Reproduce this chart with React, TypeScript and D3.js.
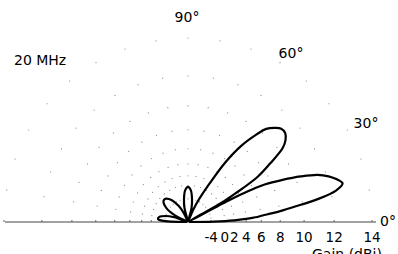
import React from 'react';
import * as d3 from 'd3';

// elevation angle (deg) and gain (dBi)
const elevation = [0, 1, 2, 3, 4, 5, 6, 7, 8, 10, 12, 14, 16, 18, 20, 22, 24, 26, 27, 28, 29, 30, 31, 33, 35.5, 38, 40, 42.5, 45, 47, 50, 52, 55, 58, 61, 64, 67, 70, 72, 76, 80, 85, 90, 95, 100, 104, 108, 115, 120, 127, 133, 137, 141, 147, 153, 157, 161, 165, 170, 174, 177, 180];
const gainDbi = [-30, -3, 2, 4, 5.3, 6.2, 7.3, 8.3, 9.2, 11.1, 12.3, 12.75, 12.5, 12.1, 11.5, 10.4, 9.0, 7.4, 5.5, 1.5, -30, 1, 3.5, 7.1, 8.8, 10.3, 10.8, 11.1, 11.1, 10.9, 10.4, 9.6, 8.1, 5.6, 1.2, -3, -9, -30, -30, -8, -4, -1.2, -0.4, -1.2, -4, -8, -30, -12, -6, -2.5, -1.2, -1.0, -1.3, -3, -8, -30, -8, -4, -2, -1.7, -3, -30];

const ringTicks = [-4, 0, 2, 4, 6, 8, 10, 12, 14];
const spokeAngles = d3.range(0, 181, 10);
const angleLabels = [0, 30, 60, 90];
const freqLabel = '20 MHz';
const axisTitle = 'Gain (dBi)';

const W = 398;
const H = 254;
const cx = 188;
const cy = 222;
const R = 184;
const font = "'DejaVu Sans', sans-serif";

const amp = (db: number) => Math.pow(10, db / 20);

export default function App() {
  const r = d3.scaleLinear().domain([0, amp(14)]).range([0, R]);
  const rad = (deg: number) => (deg * Math.PI) / 180;

  const line = d3
    .lineRadial<number>()
    .angle((_, i) => Math.PI / 2 - rad(elevation[i]))
    .radius((d) => r(amp(d)))
    .curve(d3.curveCatmullRom.alpha(0.5));

  const dots: [number, number][] = [];
  ringTicks.forEach((t) => {
    spokeAngles.forEach((a) => {
      if (a === 0 || a === 180) return;
      const rr = r(amp(t));
      dots.push([cx + rr * Math.cos(rad(a)), cy - rr * Math.sin(rad(a))]);
    });
  });

  const labelPos: Record<number, [number, number, string]> = {
    0: [380, 226, 'start'],
    30: [366, 128, 'middle'],
    60: [291, 58, 'middle'],
    90: [187, 22, 'middle'],
  };

  return (
    <svg width={W} height={H} style={{ position: 'fixed', left: 0, top: 0, background: '#fff' }}>
      <g>
        {dots.map(([x, y], i) => (
          <circle key={i} cx={x} cy={y} r={0.6} fill="#888" />
        ))}
      </g>

      <line x1={5} x2={376} y1={cy} y2={cy} stroke="#444" strokeWidth={1} />
      {ringTicks.map((t) => (
        <g key={t}>
          <line x1={cx + r(amp(t))} x2={cx + r(amp(t))} y1={cy} y2={cy - 2} stroke="#666" />
          <line x1={cx - r(amp(t))} x2={cx - r(amp(t))} y1={cy} y2={cy - 2} stroke="#666" />
          <text x={cx + r(amp(t))} y={242} textAnchor="middle" fontFamily={font} fontSize={13.5} fill="#000">
            {t}
          </text>
        </g>
      ))}

      <path
        d={line(gainDbi) || ''}
        transform={`translate(${cx},${cy})`}
        fill="none"
        stroke="#000"
        strokeWidth={2.2}
        strokeLinejoin="round"
      />

      {angleLabels.map((a) => {
        const [x, y, anchor] = labelPos[a];
        return (
          <text key={a} x={x} y={y} textAnchor={anchor as any} fontFamily={font} fontSize={14} fill="#000">
            {a}°
          </text>
        );
      })}
      <text x={14} y={65} fontFamily={font} fontSize={14} fill="#000">
        {freqLabel}
      </text>
      <text x={312} y={259} fontFamily={font} fontSize={14} fill="#000">
        {axisTitle}
      </text>
    </svg>
  );
}
